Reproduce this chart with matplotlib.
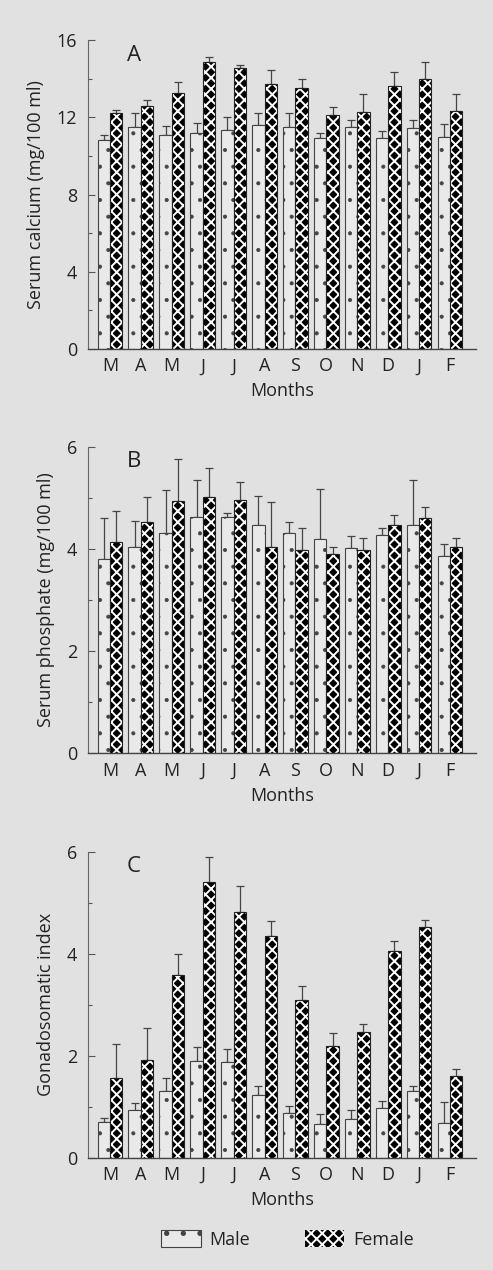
import matplotlib
matplotlib.use("Agg")
import matplotlib.pyplot as plt
import numpy as np

months = ["M", "A", "M", "J", "J", "A", "S", "O", "N", "D", "J", "F"]

# Panel A: serum calcium (mg/100 ml)
ca_male = [10.8, 11.5, 11.1, 11.2, 11.35, 11.6, 11.5, 10.95, 11.5, 10.9, 11.45, 11.0]
ca_male_err = [0.3, 0.7, 0.45, 0.5, 0.65, 0.6, 0.7, 0.25, 0.35, 0.4, 0.4, 0.65]
ca_female = [12.2, 12.6, 13.25, 14.85, 14.55, 13.7, 13.5, 12.1, 12.25, 13.6, 14.0, 12.3]
ca_female_err = [0.2, 0.3, 0.6, 0.25, 0.15, 0.75, 0.5, 0.45, 0.95, 0.75, 0.85, 0.9]

# Panel B: serum phosphate (mg/100 ml)
ph_male = [3.8, 4.03, 4.32, 4.62, 4.62, 4.47, 4.31, 4.19, 4.01, 4.27, 4.47, 3.87]
ph_male_err = [0.8, 0.52, 0.83, 0.72, 0.08, 0.57, 0.22, 0.98, 0.24, 0.13, 0.87, 0.22]
ph_female = [4.13, 4.52, 4.94, 5.01, 4.95, 4.04, 3.98, 3.9, 3.98, 4.47, 4.6, 4.03]
ph_female_err = [0.61, 0.5, 0.81, 0.57, 0.35, 0.87, 0.42, 0.14, 0.23, 0.19, 0.21, 0.18]

# Panel C: gonadosomatic index
gsi_male = [0.7, 0.93, 1.31, 1.9, 1.87, 1.23, 0.87, 0.67, 0.75, 0.97, 1.31, 0.69]
gsi_male_err = [0.07, 0.15, 0.26, 0.28, 0.27, 0.18, 0.15, 0.18, 0.18, 0.14, 0.1, 0.41]
gsi_female = [1.56, 1.91, 3.58, 5.41, 4.82, 4.34, 3.1, 2.2, 2.46, 4.05, 4.53, 1.6]
gsi_female_err = [0.67, 0.63, 0.41, 0.49, 0.51, 0.31, 0.27, 0.24, 0.17, 0.2, 0.14, 0.13]

panels = [
    ("A", "Serum calcium (mg/100 ml)", ca_male, ca_male_err, ca_female, ca_female_err,
     16, [0, 4, 8, 12, 16], [2, 6, 10, 14]),
    ("B", "Serum phosphate (mg/100 ml)", ph_male, ph_male_err, ph_female, ph_female_err,
     6, [0, 2, 4, 6], [1, 3, 5]),
    ("C", "Gonadosomatic index", gsi_male, gsi_male_err, gsi_female, gsi_female_err,
     6, [0, 2, 4, 6], [1, 3, 5]),
]

BG = "#e1e1e1"
TXT = "#222222"
plt.rcParams["font.family"] = ["Open Sans", "DejaVu Sans"]
plt.rcParams["hatch.linewidth"] = 1.4

fig = plt.figure(figsize=(4.93, 12.70), dpi=100, facecolor=BG)

rects = [
    [0.1785, 0.7252, 0.787, 0.2433],
    [0.1785, 0.4068, 0.787, 0.2415],
    [0.1785, 0.0884, 0.787, 0.2410],
]


def set_hlw(container, lw):
    for p in container:
        if hasattr(p, "set_hatch_linewidth"):
            p.set_hatch_linewidth(lw)


x = np.arange(len(months))
w = 0.4
handles = None
for (letter, ylabel, m, me, f, fe, ymax, majors, minors), rect in zip(panels, rects):
    ax = fig.add_axes(rect)
    ax.set_facecolor(BG)
    bm = ax.bar(x - w / 2, m, w, facecolor="#e9e9e9", edgecolor="#444444",
                hatch=".", linewidth=0.8, zorder=2)
    set_hlw(bm, 0.5)
    bf = ax.bar(x + w / 2, f, w, facecolor="black", edgecolor="white",
                hatch="xxx", linewidth=0, zorder=2)
    set_hlw(bf, 1.4)
    ax.bar(x + w / 2, f, w, fill=False, edgecolor="#222222", linewidth=0.8, zorder=3)
    ax.errorbar(x - w / 2, m, yerr=[np.zeros(len(m)), me], fmt="none",
                ecolor="#444444", elinewidth=0.9, capsize=3, capthick=0.9, zorder=1)
    ax.errorbar(x + w / 2, f, yerr=[np.zeros(len(f)), fe], fmt="none",
                ecolor="#444444", elinewidth=0.9, capsize=3, capthick=0.9, zorder=1)
    if handles is None:
        handles = (bm, bf)
    ax.set_xlim(-0.71, 11.84)
    ax.set_ylim(0, ymax)
    ax.set_xticks(x)
    ax.set_xticklabels(months, fontsize=13, color=TXT)
    ax.tick_params(axis="x", length=0, pad=6)
    ax.set_yticks(majors)
    ax.set_yticks(minors, minor=True)
    ax.tick_params(axis="y", which="major", direction="in", length=5, width=0.8,
                   colors="#555555", labelsize=13, labelcolor=TXT, pad=8)
    ax.tick_params(axis="y", which="minor", direction="in", length=3, width=0.8,
                   colors="#555555")
    for s in ("top", "right"):
        ax.spines[s].set_visible(False)
    ax.spines["left"].set_color("#666666")
    ax.spines["left"].set_linewidth(0.8)
    ax.spines["bottom"].set_color("#444444")
    ax.spines["bottom"].set_linewidth(1.0)
    ax.set_ylabel(ylabel, fontsize=13, color=TXT, labelpad=8)
    ax.set_xlabel("Months", fontsize=13, color=TXT, labelpad=5)
    ax.text(0.1, 0.985, letter, transform=ax.transAxes, fontsize=16,
            color=TXT, va="top", ha="left")

fig.legend(handles, ["Male", "Female"], loc="center", bbox_to_anchor=(0.583, 0.024),
           ncol=2, frameon=False, fontsize=13, handlelength=2.2, handleheight=1.0,
           columnspacing=3.0, handletextpad=0.5, labelcolor=TXT)

fig.savefig("out.png", dpi=100, facecolor=BG)
